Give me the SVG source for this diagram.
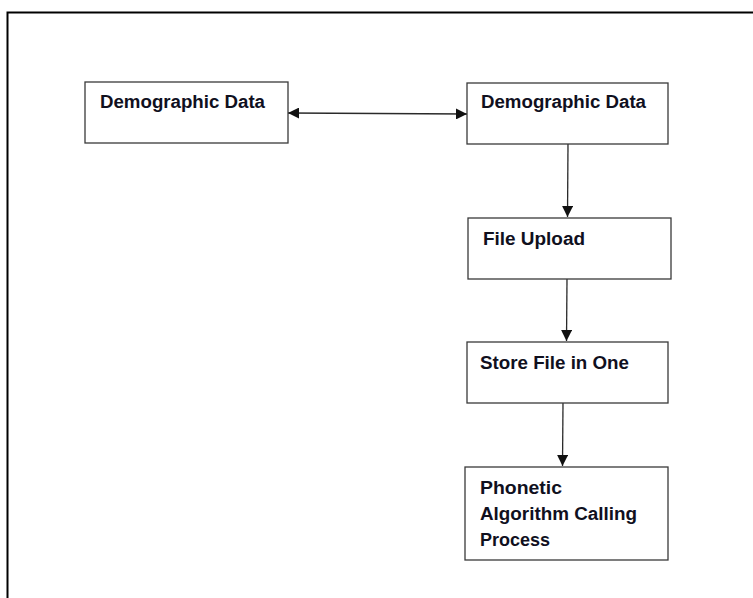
<svg xmlns="http://www.w3.org/2000/svg" width="753" height="598" viewBox="0 0 753 598">
  <style>
    .box { fill: #ffffff; stroke: #3a3a3a; stroke-width: 1.3; }
    .label { font-family: "Liberation Sans", Arial, sans-serif; font-weight: bold; font-size: 18px; fill: #10101e; }
    .link { stroke: #2a2a2a; stroke-width: 1.3; fill: none; }
  </style>
  <defs>
    <marker id="head" viewBox="0 0 10 10" refX="10" refY="5" markerWidth="11" markerHeight="11" markerUnits="userSpaceOnUse" orient="auto-start-reverse">
      <path d="M0,0 L10,5 L0,10 z" fill="#111"/>
    </marker>
  </defs>
  <rect width="753" height="598" fill="#ffffff"/>
  <!-- outer frame -->
  <path d="M7.5,598 V12.5 H753" fill="none" stroke="#000" stroke-width="2"/>

  <g id="connectors">
    <line class="link" x1="288" y1="113" x2="467" y2="114" marker-start="url(#head)" marker-end="url(#head)"/>
    <line class="link" x1="568" y1="144" x2="567.5" y2="217" marker-end="url(#head)"/>
    <line class="link" x1="567" y1="279" x2="566.5" y2="341" marker-end="url(#head)"/>
    <line class="link" x1="563" y1="403" x2="562.5" y2="466" marker-end="url(#head)"/>
  </g>

  <g id="demographic-data-left">
    <rect class="box" x="85" y="82" width="203" height="61"/>
    <text class="label" x="100" y="108" textLength="165" lengthAdjust="spacingAndGlyphs">Demographic Data</text>
  </g>
  <g id="demographic-data-right">
    <rect class="box" x="467" y="83" width="201" height="61"/>
    <text class="label" x="481" y="108" textLength="165" lengthAdjust="spacingAndGlyphs">Demographic Data</text>
  </g>
  <g id="file-upload">
    <rect class="box" x="468" y="218" width="203" height="61"/>
    <text class="label" x="483" y="245" textLength="102" lengthAdjust="spacingAndGlyphs">File Upload</text>
  </g>
  <g id="store-file">
    <rect class="box" x="467" y="342" width="201" height="61"/>
    <text class="label" x="480" y="369" textLength="149" lengthAdjust="spacingAndGlyphs">Store File in One</text>
  </g>
  <g id="phonetic-algorithm">
    <rect class="box" x="465" y="467" width="203" height="93"/>
    <text class="label" x="480" y="494" textLength="82" lengthAdjust="spacingAndGlyphs">Phonetic</text>
    <text class="label" x="480" y="520" textLength="157" lengthAdjust="spacingAndGlyphs">Algorithm Calling</text>
    <text class="label" x="480" y="546" textLength="70" lengthAdjust="spacingAndGlyphs">Process</text>
  </g>
</svg>
